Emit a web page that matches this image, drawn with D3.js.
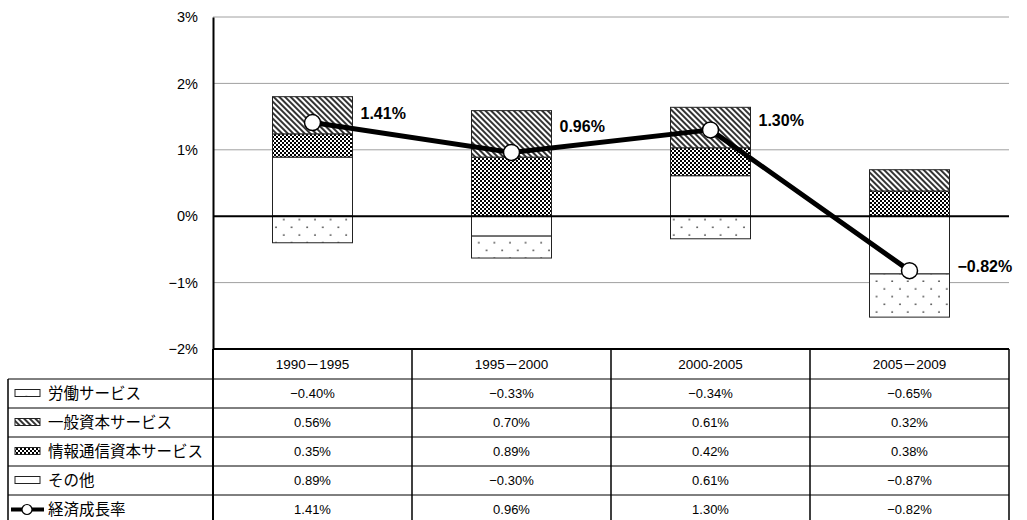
<!DOCTYPE html>
<html>
<head>
<meta charset="utf-8">
<script src="https://cdn.jsdelivr.net/npm/d3@7"></script>
<style>
  html, body { margin: 0; padding: 0; background: #fff; }
  svg { display: block; }
</style>
</head>
<body>
<script>
// Periods (table columns).
const categories = ["1990－1995", "1995－2000", "2000-2005", "2005－2009"];

// Contributions (percentage points).
const labor = [-0.40, -0.33, -0.34, -0.65];
const general = [0.56, 0.70, 0.61, 0.32];
const ict = [0.35, 0.89, 0.42, 0.38];
const other = [0.89, -0.30, 0.61, -0.87];

// Economic growth rate.
const growth = [1.41, 0.96, 1.30, -0.82];

// Series names, in table order.
const seriesNames = ["労働サービス", "一般資本サービス", "情報通信資本サービス", "その他", "経済成長率"];

// Y axis ticks.
const yTicks = [-2, -1, 0, 1, 2, 3];

// Vertical nudge of each growth label relative to its point.
const labelNudge = [-9, -26, -9, -4];

const Width = 1027;
const Height = 520;
const PlotLeft = 213;
const PlotRight = 1009;
const PlotTop = 17;
const PlotBottom = 349;
const BarWidth = 80;
const HeaderHeight = 30;
const RowHeight = 29;
const TableLeft = 8;
const LatinFont = "'Liberation Sans', 'Noto Sans CJK JP', Arial, sans-serif";
const CjkFont = "'Noto Sans CJK JP', sans-serif";

const svg = d3.select("body").append("svg")
    .attr("width", Width)
    .attr("height", Height);

// Fill patterns.
const defs = svg.append("defs");

const hatch = defs.append("pattern")
    .attr("id", "hatch")
    .attr("patternUnits", "userSpaceOnUse")
    .attr("width", 4)
    .attr("height", 4)
    .attr("patternTransform", "rotate(-45)");
hatch.append("rect").attr("width", 4).attr("height", 4).attr("fill", "#fff");
hatch.append("line")
    .attr("x1", 1).attr("y1", 0).attr("x2", 1).attr("y2", 4)
    .attr("stroke", "#000").attr("stroke-width", 1.6);

const checker = defs.append("pattern")
    .attr("id", "checker")
    .attr("patternUnits", "userSpaceOnUse")
    .attr("width", 4)
    .attr("height", 4);
checker.append("rect").attr("width", 4).attr("height", 4).attr("fill", "#fff");
checker.append("rect").attr("x", 0).attr("y", 0).attr("width", 2).attr("height", 2).attr("fill", "#000");
checker.append("rect").attr("x", 2).attr("y", 2).attr("width", 2).attr("height", 2).attr("fill", "#000");

const dots = defs.append("pattern")
    .attr("id", "dots")
    .attr("patternUnits", "userSpaceOnUse")
    .attr("width", 15.6)
    .attr("height", 15.4);
dots.append("rect").attr("width", 15.6).attr("height", 15.4).attr("fill", "#fff");
dots.append("circle").attr("cx", 3).attr("cy", 4).attr("r", 0.9).attr("fill", "#444");
dots.append("circle").attr("cx", 10.8).attr("cy", 11.7).attr("r", 0.9).attr("fill", "#444");

// Fill of each series.
const fills = ["url(#dots)", "url(#hatch)", "url(#checker)", "#fff"];

// Scales.
const x = d3.scaleBand()
    .domain(categories)
    .range([PlotLeft, PlotRight])
    .padding(0);

const y = d3.scaleLinear()
    .domain([-2, 3])
    .range([PlotBottom, PlotTop]);

const fmtTick = d => (d < 0 ? "−" + Math.abs(d) : d) + "%";
const fmtVal = d => (d < 0 ? "−" : "") + Math.abs(d).toFixed(2) + "%";

// Gridlines.
svg.append("g")
    .selectAll("line")
    .data(yTicks.filter(d => d !== 0 && d !== -2))
    .join("line")
    .attr("x1", PlotLeft).attr("x2", PlotRight)
    .attr("y1", d => y(d)).attr("y2", d => y(d))
    .attr("stroke", "#a0a0a0")
    .attr("stroke-width", 1);

// Y axis.
const yAxis = svg.append("g")
    .attr("transform", `translate(${PlotLeft},0)`)
    .call(d3.axisLeft(y).tickValues(yTicks).tickFormat(fmtTick).tickSize(0).tickPadding(15));
yAxis.select(".domain").attr("stroke", "#000").attr("stroke-width", 2);
yAxis.selectAll("text")
    .attr("font-family", LatinFont)
    .attr("font-size", 14.5)
    .attr("fill", "#000");

// Stacked bars (diverging stack).
const stackKeys = ["other", "ict", "general", "labor"];
const rows = categories.map((c, i) => ({
    cat: c, labor: labor[i], general: general[i], ict: ict[i], other: other[i]
}));
const stacked = d3.stack()
    .keys(stackKeys)
    .offset(d3.stackOffsetDiverging)(rows);
const keyFill = { labor: fills[0], general: fills[1], ict: fills[2], other: fills[3] };

svg.append("g")
    .selectAll("g")
    .data(stacked)
    .join("g")
    .attr("fill", d => keyFill[d.key])
    .selectAll("rect")
    .data(d => d)
    .join("rect")
    .attr("x", d => x(d.data.cat) + (x.bandwidth() - BarWidth) / 2)
    .attr("width", BarWidth)
    .attr("y", d => y(Math.max(d[0], d[1])))
    .attr("height", d => Math.abs(y(d[0]) - y(d[1])))
    .attr("stroke", "#222")
    .attr("stroke-width", 1);

// Zero line.
svg.append("line")
    .attr("x1", PlotLeft).attr("x2", PlotRight)
    .attr("y1", y(0)).attr("y2", y(0))
    .attr("stroke", "#000")
    .attr("stroke-width", 2);

// Growth line.
const cx = (d, i) => x(categories[i]) + x.bandwidth() / 2;
svg.append("path")
    .datum(growth)
    .attr("fill", "none")
    .attr("stroke", "#000")
    .attr("stroke-width", 5)
    .attr("stroke-linejoin", "round")
    .attr("d", d3.line().x(cx).y(d => y(d)));

svg.append("g")
    .selectAll("circle")
    .data(growth)
    .join("circle")
    .attr("cx", cx)
    .attr("cy", d => y(d))
    .attr("r", 8)
    .attr("fill", "#fff")
    .attr("stroke", "#000")
    .attr("stroke-width", 1.5);

// Growth labels.
svg.append("g")
    .selectAll("text")
    .data(growth)
    .join("text")
    .attr("x", (d, i) => cx(d, i) + BarWidth / 2 + 8)
    .attr("y", (d, i) => y(d) + labelNudge[i])
    .attr("dy", "0.35em")
    .attr("font-family", LatinFont)
    .attr("font-size", 16)
    .attr("font-weight", "bold")
    .text(fmtVal);

// Data table.
const table = svg.append("g");
const tableTop = PlotBottom;
const bodyTop = tableTop + HeaderHeight;
const tableBottom = bodyTop + RowHeight * seriesNames.length;
const seriesValues = [labor, general, ict, other, growth];

// Header texts.
table.selectAll("text.head")
    .data(categories)
    .join("text")
    .attr("class", "head")
    .attr("x", d => x(d) + x.bandwidth() / 2)
    .attr("y", tableTop + HeaderHeight / 2)
    .attr("dy", "0.35em")
    .attr("text-anchor", "middle")
    .attr("font-family", LatinFont)
    .attr("font-size", 13.5)
    .text(d => d);

// Horizontal rules.
table.selectAll("line.row")
    .data(d3.range(seriesNames.length))
    .join("line")
    .attr("class", "row")
    .attr("x1", TableLeft).attr("x2", PlotRight)
    .attr("y1", i => bodyTop + i * RowHeight).attr("y2", i => bodyTop + i * RowHeight)
    .attr("stroke", "#000")
    .attr("stroke-width", 1);
table.append("line")
    .attr("x1", TableLeft).attr("x2", PlotRight)
    .attr("y1", tableBottom).attr("y2", tableBottom)
    .attr("stroke", "#000").attr("stroke-width", 1.5);
table.append("line")
    .attr("x1", PlotLeft).attr("x2", PlotRight)
    .attr("y1", tableTop).attr("y2", tableTop)
    .attr("stroke", "#000").attr("stroke-width", 2);

// Vertical rules.
table.selectAll("line.col")
    .data(categories.slice(1))
    .join("line")
    .attr("class", "col")
    .attr("x1", d => x(d)).attr("x2", d => x(d))
    .attr("y1", tableTop).attr("y2", tableBottom)
    .attr("stroke", "#000").attr("stroke-width", 1.5);
table.append("line")
    .attr("x1", PlotLeft).attr("x2", PlotLeft)
    .attr("y1", tableTop).attr("y2", tableBottom)
    .attr("stroke", "#000").attr("stroke-width", 2);
table.append("line")
    .attr("x1", PlotRight).attr("x2", PlotRight)
    .attr("y1", tableTop).attr("y2", tableBottom)
    .attr("stroke", "#000").attr("stroke-width", 1.5);
table.append("line")
    .attr("x1", TableLeft).attr("x2", TableLeft)
    .attr("y1", bodyTop).attr("y2", tableBottom)
    .attr("stroke", "#000").attr("stroke-width", 1.5);

// Row cells.
seriesNames.forEach((name, r) => {
    const cy = bodyTop + r * RowHeight + RowHeight / 2;

    // Legend key.
    if (r < 4) {
        table.append("rect")
            .attr("x", 15).attr("y", cy - 4)
            .attr("width", 25).attr("height", 7)
            .attr("fill", fills[r])
            .attr("stroke", "#222")
            .attr("stroke-width", 1);
    } else {
        table.append("line")
            .attr("x1", 11).attr("x2", 44)
            .attr("y1", cy).attr("y2", cy)
            .attr("stroke", "#000").attr("stroke-width", 4);
        table.append("circle")
            .attr("cx", 27).attr("cy", cy).attr("r", 5)
            .attr("fill", "#fff").attr("stroke", "#000").attr("stroke-width", 1.2);
    }

    table.append("text")
        .attr("x", 48)
        .attr("y", cy)
        .attr("dy", "0.36em")
        .attr("font-family", CjkFont)
        .attr("font-size", 15.5)
        .text(name);

    table.selectAll(null)
        .data(seriesValues[r])
        .join("text")
        .attr("x", (d, i) => x(categories[i]) + x.bandwidth() / 2)
        .attr("y", cy)
        .attr("dy", "0.35em")
        .attr("text-anchor", "middle")
        .attr("font-family", LatinFont)
        .attr("font-size", 13)
        .text(fmtVal);
});
</script>
</body>
</html>
